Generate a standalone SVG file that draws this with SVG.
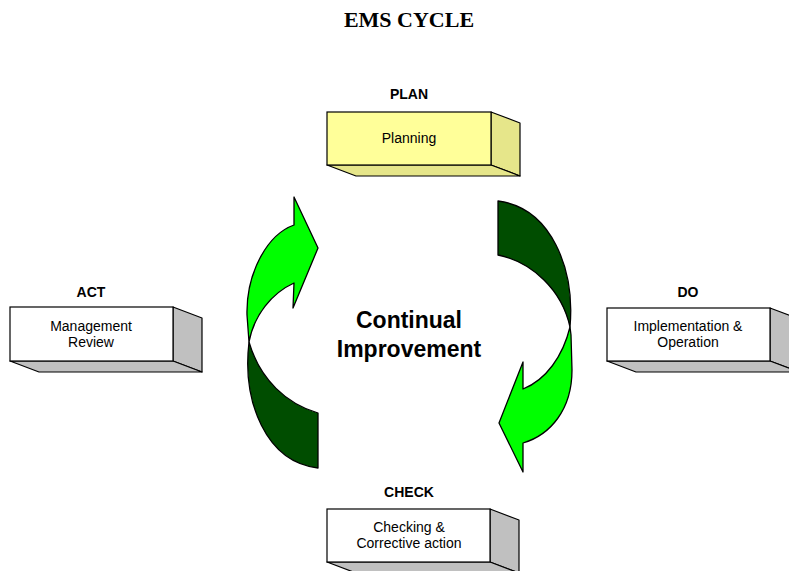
<svg xmlns="http://www.w3.org/2000/svg" width="789" height="571" viewBox="0 0 789 571">
<style>
.front{stroke:#000;stroke-width:1.2}
.side{stroke:#000;stroke-width:1.2;stroke-linejoin:round}
.w .front{fill:#fff}
.w .side{fill:#c0c0c0}
.y .front{fill:#ffff99}
.y .side{fill:#e6e68a}
.lbl{font-family:"Liberation Sans",Arial,sans-serif;font-weight:bold;font-size:14px;text-anchor:middle;fill:#000}
.txt{font-family:"Liberation Sans",Arial,sans-serif;font-size:14px;text-anchor:middle;fill:#000}
.title{font-family:"Liberation Serif","Times New Roman",serif;font-weight:bold;font-size:22px;text-anchor:middle;fill:#000}
.center{font-family:"Liberation Sans",Arial,sans-serif;font-weight:bold;font-size:23px;text-anchor:middle;fill:#000}
.lg{fill:#00ff00;stroke:#000;stroke-width:1.3;stroke-linejoin:round}
.dg{fill:#004d00;stroke:#000;stroke-width:1.3;stroke-linejoin:round}
</style>
<rect width="789" height="571" fill="#fff"/>
<text class="title" x="409" y="27">EMS CYCLE</text>

<g id="connectors">
  <path class="dg" d="M318,413 C287,404 260,380 249,342 C242,402 266,462 318,468 Z"/>
  <path class="lg" d="M249,342 C254,315 272,293 294,283 L293,308 L318,248 L294,197 L294,225 C266,235 246,275 247,315 Z"/>
  <path class="dg" d="M498,201 L498,255 C532,262 562,290 570,327 C575,270 552,208 498,201 Z"/>
  <path class="lg" d="M570,327 C563,356 546,380 523,389 L523,362 L499,423 L523,472 L523,443 C550,435 572,410 572,370 L571,335 Z"/>
</g>

<g id="center-label">
  <text class="center" x="409" y="328">Continual</text>
  <text class="center" x="409" y="357">Improvement</text>
</g>

<g id="node-plan" class="y">
  <text class="lbl" x="409" y="99">PLAN</text>
  <polygon class="side" points="491,112 520,123 520,176 491,165"/>
  <polygon class="side" points="327,165 491,165 520,176 356,176"/>
  <rect class="front" x="327" y="112" width="164" height="53"/>
  <text class="txt" x="409" y="143">Planning</text>
</g>

<g id="node-act" class="w">
  <text class="lbl" x="91" y="297">ACT</text>
  <polygon class="side" points="173,307 202,318 202,372 173,361"/>
  <polygon class="side" points="10,361 173,361 202,372 39,372"/>
  <rect class="front" x="10" y="307" width="163" height="54"/>
  <text class="txt" x="91" y="331">Management</text>
  <text class="txt" x="91" y="347">Review</text>
</g>

<g id="node-do" class="w">
  <text class="lbl" x="688" y="297">DO</text>
  <polygon class="side" points="770,308 799,319 799,372 770,361"/>
  <polygon class="side" points="607,361 770,361 799,372 636,372"/>
  <rect class="front" x="607" y="308" width="163" height="53"/>
  <text class="txt" x="688" y="331">Implementation &amp;</text>
  <text class="txt" x="688" y="347">Operation</text>
</g>

<g id="node-check" class="w">
  <text class="lbl" x="409" y="497">CHECK</text>
  <polygon class="side" points="490,509 519,520 519,573 490,562"/>
  <polygon class="side" points="327,562 490,562 519,573 356,573"/>
  <rect class="front" x="327" y="509" width="163" height="53"/>
  <text class="txt" x="409" y="532">Checking &amp;</text>
  <text class="txt" x="409" y="548">Corrective action</text>
</g>
</svg>
